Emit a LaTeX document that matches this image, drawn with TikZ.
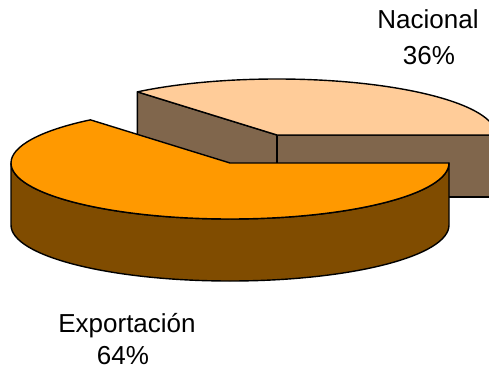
\documentclass[tikz,border=0pt]{standalone}
\usepackage{fontspec}
\setmainfont{Liberation Sans}
\usetikzlibrary{positioning}
\definecolor{nactop}{HTML}{FFCC99}
\definecolor{nacside}{HTML}{80664C}
\definecolor{exptop}{HTML}{FF9900}
\definecolor{expside}{HTML}{804C00}
\edef\pierx{219}
\edef\piery{56}
\edef\piedepth{62}
\tikzstyle{pieface}=[draw=black, line width=1.4pt, line join=round]
\tikzstyle{pielabel}=[font=\fontsize{26}{30}\selectfont, anchor=base, inner sep=0pt]

\begin{document}
\begin{tikzpicture}[x=1pt,y=-1pt]
		\useasboundingbox (0,0) rectangle (489,369);
		\coordinate (cexp) at (230,163);
		\coordinate (cnac) at (277,135);
		
		% Nacional (exploded slice)
		\draw[pieface, fill=nacside] (cnac) -- ++(-129.6:219 and 56) -- ++(0,\piedepth) -- ++(50.4:219 and 56) -- cycle;
		\draw[pieface, fill=nacside] (cnac) -- ++(0:219 and 56) -- ++(0,\piedepth) -- ++(-\pierx,0) -- cycle;
		\draw[pieface, fill=nactop] (cnac) -- ++(0:219 and 56) arc[start angle=0, end angle=-129.6, x radius=\pierx, y radius=\piery] -- cycle;
		
		% Exportacion
		\draw[pieface, fill=expside] ([xshift=\pierx pt]cexp) arc[start angle=0, end angle=180, x radius=\pierx, y radius=\piery] -- ++(0,\piedepth) arc[start angle=180, end angle=0, x radius=\pierx, y radius=\piery] -- cycle;
		\draw[pieface, fill=exptop] (cexp) -- ++(0:219 and 56) arc[start angle=0, end angle=230.4, x radius=\pierx, y radius=\piery] -- cycle;
		
		\node[pielabel] (nacional) at (428,29) {Nacional};
		\node[pielabel] (nacpct) at (429,64) {36\%};
		\node[pielabel] (exportacion) at (127,332) {Exportación};
		\node[pielabel] (exppct) at (123,364) {64\%};
\end{tikzpicture}
\end{document}
